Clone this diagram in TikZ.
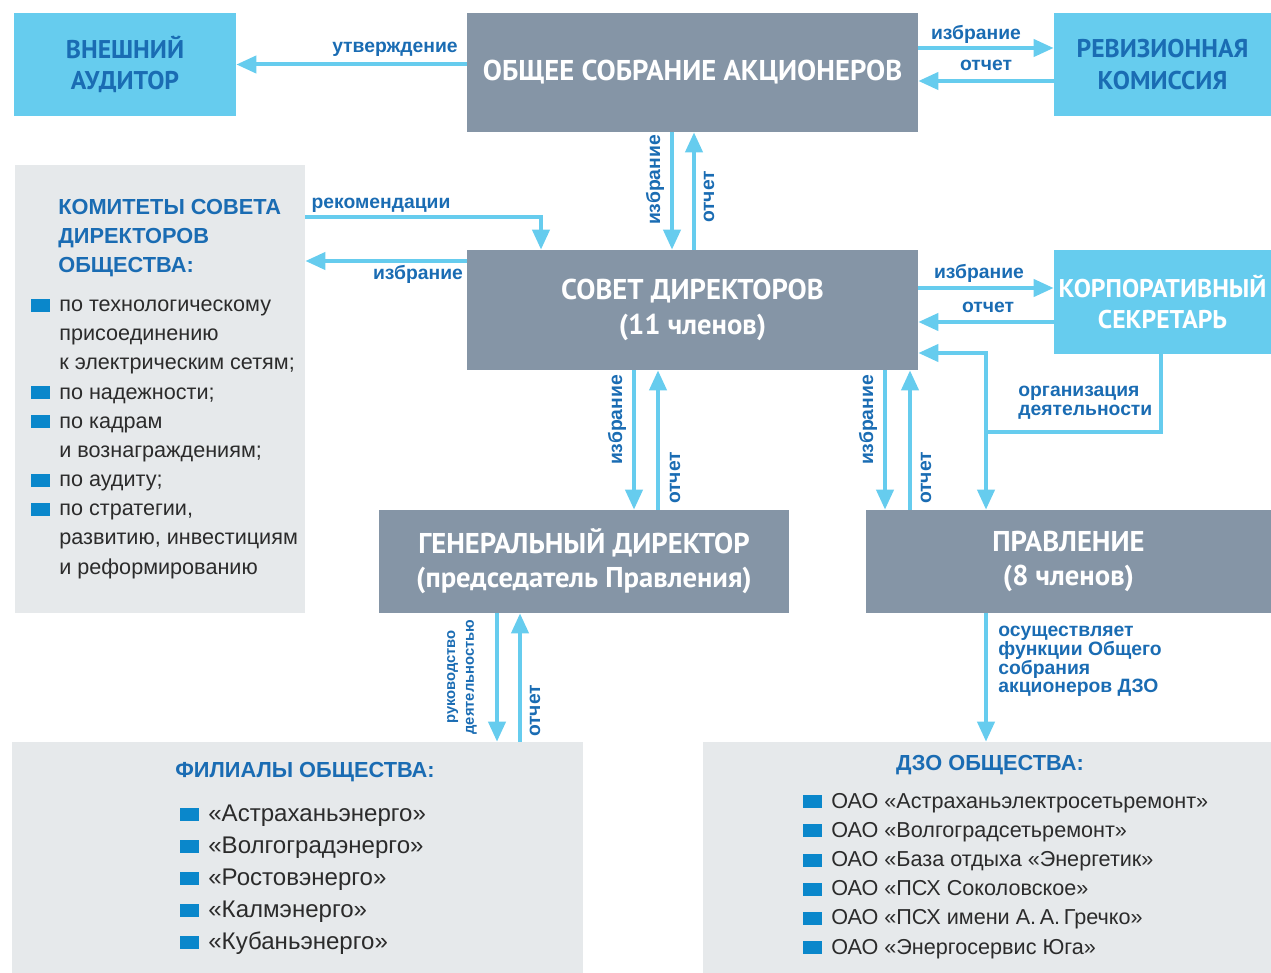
\documentclass[tikz,border=0pt]{standalone}
\usepackage{fontspec}
\setmainfont{Liberation Sans}
\newfontfamily\boxfont{PT Sans}
\usepackage{xcolor}
\usetikzlibrary{arrows.meta}

\definecolor{skyblue}{HTML}{66CCEE}
\definecolor{slate}{HTML}{8595A6}
\definecolor{panel}{HTML}{E6E9EB}
\definecolor{inkblue}{HTML}{1A6CB3}
\definecolor{bullet}{HTML}{0A87CB}
\definecolor{bodytext}{HTML}{2B2B2B}

% blue square in front of a list line
\newcommand{\sq}{\llap{\textcolor{bullet}{\rule{0.38cm}{0.26cm}}\hspace{0.19cm}}}

\begin{document}
\begin{tikzpicture}[x=0.02cm, y=-0.02cm,
  box/.style={rectangle, inner sep=0pt, align=center},
  dark/.style={box, fill=slate, text=white, font=\boxfont\bfseries\fontsize{16.3}{19.5}\selectfont},
  light/.style={box, fill=skyblue, text=inkblue, font=\boxfont\bfseries\fontsize{14.6}{18}\selectfont},
  panelbox/.style={rectangle, fill=panel, inner sep=0pt},
  lbl/.style={text=inkblue, inner sep=0pt, font=\bfseries\fontsize{11}{10.6}\selectfont},
  heading/.style={text=inkblue, inner sep=0pt, align=left, font=\bfseries\fontsize{12.4}{16.6}\selectfont},
  items/.style={text=bodytext, inner sep=0pt, align=left},
  arr/.style={draw=skyblue, line width=0.08cm, -{Triangle[length=0.4cm,width=0.34cm]}}]
  \useasboundingbox (0,0) rectangle (1271,973);

  % top row
  \node[light, minimum width=4.44cm, minimum height=2.06cm] (auditor) at (125,64.5) {ВНЕШНИЙ\\АУДИТОР};
  \node[dark, minimum width=9.02cm, minimum height=2.38cm] (meeting) at (692.5,72.5) {ОБЩЕЕ СОБРАНИЕ АКЦИОНЕРОВ};
  \node[light, minimum width=4.34cm, minimum height=2.06cm] (revision) at (1162.5,64.5) {РЕВИЗИОННАЯ\\КОМИССИЯ};

  % board level
  \node[panelbox, minimum width=5.8cm, minimum height=8.96cm] (committees) at (160,389) {};
  \node[dark, minimum width=9.02cm, minimum height=2.4cm] (board) at (692.5,310) {СОВЕТ ДИРЕКТОРОВ\\(11 членов)};
  \node[light, text=white, minimum width=4.34cm, minimum height=2.08cm] (secretary) at (1162.5,302) {КОРПОРАТИВНЫЙ\\СЕКРЕТАРЬ};

  \node[heading, anchor=base west] (commHead) at (58,273) {КОМИТЕТЫ СОВЕТА\\ДИРЕКТОРОВ\\ОБЩЕСТВА:};
  \node[items, anchor=base west, font=\fontsize{12.3}{16.6}\selectfont] (commList) at (59,574)
    {\sq по технологическому\\присоединению\\к электрическим сетям;\\\sq по надежности;\\\sq по кадрам\\и вознаграждениям;\\\sq по аудиту;\\\sq по стратегии,\\развитию, инвестициям\\и реформированию};

  % executive level
  \node[dark, minimum width=8.2cm, minimum height=2.06cm] (ceo) at (584,561.5) {ГЕНЕРАЛЬНЫЙ ДИРЕКТОР\\(председатель Правления)};
  \node[dark, minimum width=8.1cm, minimum height=2.06cm] (mgmt) at (1068.5,561.5) {ПРАВЛЕНИЕ\\(8 членов)};

  % bottom panels
  \node[panelbox, minimum width=11.42cm, minimum height=4.62cm] (branches) at (297.5,857.5) {};
  \node[heading, anchor=base] (branchHead) at (305,777) {ФИЛИАЛЫ ОБЩЕСТВА:};
  \node[items, anchor=base west, font=\fontsize{13.7}{18.2}\selectfont] (branchList) at (208,949)
    {\sq «Астраханьэнерго»\\\sq «Волгоградэнерго»\\\sq «Ростовэнерго»\\\sq «Калмэнерго»\\\sq «Кубаньэнерго»};

  \node[panelbox, minimum width=11.36cm, minimum height=4.62cm] (subsid) at (987,857.5) {};
  \node[heading, anchor=base] (subsidHead) at (990,770) {ДЗО ОБЩЕСТВА:};
  \node[items, anchor=base west, font=\fontsize{12.3}{16.6}\selectfont] (subsidList) at (831,954)
    {\sq ОАО «Астраханьэлектросетьремонт»\\\sq ОАО «Волгоградсетьремонт»\\\sq ОАО «База отдыха «Энергетик»\\\sq ОАО «ПСХ Соколовское»\\\sq ОАО «ПСХ имени А.\,А.\,Гречко»\\\sq ОАО «Энергосервис Юга»};

  % connectors
  \draw[arr] (meeting.west |- auditor) -- (auditor.east);
  \draw[arr] (meeting.east |- 0,48) -- (revision.west |- 0,48);
  \draw[arr] (revision.west |- 0,81) -- (meeting.east |- 0,81);
  \draw[arr] (672,0 |- meeting.south) -- (672,0 |- board.north);
  \draw[arr] (694,0 |- board.north) -- (694,0 |- meeting.south);
  \draw[arr] (committees.east |- 0,217) -| (541,0 |- board.north);
  \draw[arr] (board.west |- 0,261) -- (committees.east |- 0,261);
  \draw[arr] (board.east |- 0,288) -- (secretary.west |- 0,288);
  \draw[arr] (secretary.west |- 0,322) -- (board.east |- 0,322);
  \coordinate (split) at (986,432);
  \draw[arr] (1161,0 |- secretary.south) |- (split) |- (board.east |- 0,353);
  \draw[arr] (split) -- (split |- mgmt.north);
  \draw[arr] (634,0 |- board.south) -- (634,0 |- ceo.north);
  \draw[arr] (658,0 |- ceo.north) -- (658,0 |- board.south);
  \draw[arr] (885,0 |- board.south) -- (885,0 |- mgmt.north);
  \draw[arr] (910,0 |- mgmt.north) -- (910,0 |- board.south);
  \draw[arr] (497,0 |- ceo.south) -- (497,0 |- branches.north);
  \draw[arr] (520,0 |- branches.north) -- (520,0 |- ceo.south);
  \draw[arr] (986,0 |- mgmt.south) -- (986,0 |- subsid.north);

  % connector labels
  \node[lbl, anchor=base east] (lApprove) at (458,53) {утверждение};
  \node[lbl, anchor=base] (lElRev) at (976,40) {избрание};
  \node[lbl, anchor=base] (lRepRev) at (986,71) {отчет};
  \node[lbl, rotate=90] (lElBoard) at (655,180) {избрание};
  \node[lbl, rotate=90] (lRepBoard) at (709,197) {отчет};
  \node[lbl, anchor=base] (lRecomm) at (381,209) {рекомендации};
  \node[lbl, anchor=base] (lElComm) at (418,279) {избрание};
  \node[lbl, anchor=base] (lElSec) at (979,278) {избрание};
  \node[lbl, anchor=base] (lRepSec) at (988,313) {отчет};
  \node[lbl, anchor=north west, align=left] (lOrg) at (1018,386) {организация\\деятельности};
  \node[lbl, rotate=90] (lElCeo) at (617,420) {избрание};
  \node[lbl, rotate=90] (lRepCeo) at (675,478) {отчет};
  \node[lbl, rotate=90] (lElMgmt) at (868,420) {избрание};
  \node[lbl, rotate=90] (lRepMgmt) at (926,478) {отчет};
  \node[lbl, rotate=90, align=center, font=\bfseries\fontsize{8.4}{10.6}\selectfont] (lLead) at (462,677) {руководство\\деятельностью};
  \node[lbl, rotate=90] (lRepBr) at (535,711) {отчет};
  \node[lbl, anchor=north west, align=left] (lFunc) at (998,626) {осуществляет\\функции Общего\\собрания\\акционеров ДЗО};
\end{tikzpicture}
\end{document}
